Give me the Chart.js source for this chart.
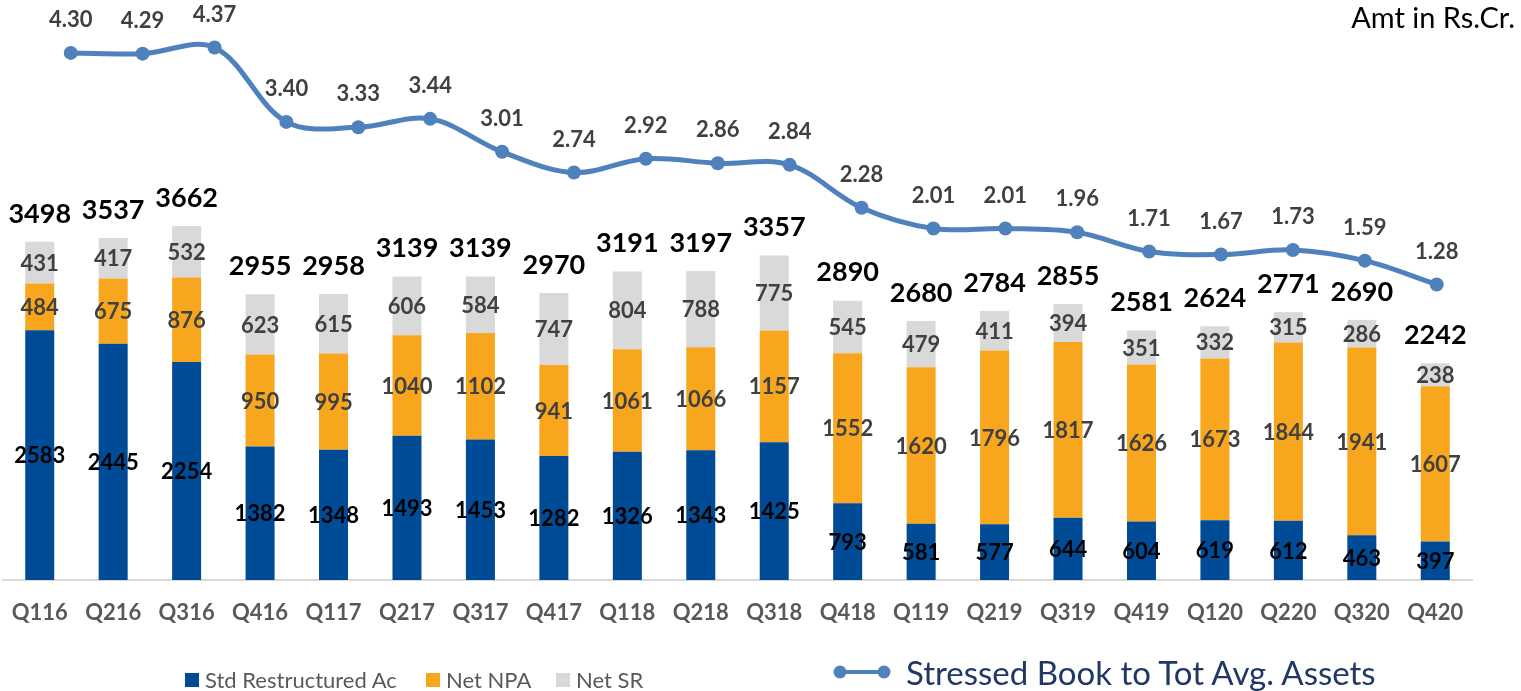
<!DOCTYPE html>
<html>
<head>
<meta charset="utf-8">
<script src="https://cdn.jsdelivr.net/npm/chart.js@4.4.1/dist/chart.umd.min.js"></script>
<style>
  html, body { margin: 0; padding: 0; background: #fff; }
  #wrap { position: relative; width: 1521px; height: 691px; overflow: hidden; font-family: Lato, "Open Sans", sans-serif; }
  #chart { position: absolute; left: 0; top: 0; }
  .note { position: absolute; right: 6px; top: 0px; font-size: 29px; line-height: 34px; color: #000; white-space: nowrap; }
  .leg { position: absolute; top: 668px; height: 24px; font-size: 22px; line-height: 24px; color: #595959; white-space: nowrap; display: flex; align-items: center; }
  .sw { display: inline-block; width: 14px; height: 14px; margin-right: 6px; }
  .lleg { position: absolute; left: 832px; top: 652px; height: 40px; display: flex; align-items: center; white-space: nowrap; font-size: 33px; line-height: 40px; color: #203864; }
  .lleg svg { margin-right: 14px; }
</style>
</head>
<body>
<div id="wrap">
  <canvas id="chart" width="1521" height="691"></canvas>
  <div class="note">Amt in Rs.Cr.</div>
  <div class="leg" style="left:185px"><span class="sw" style="background:#004B96"></span>Std Restructured Ac</div>
  <div class="leg" style="left:426px"><span class="sw" style="background:#F7A61D"></span>Net NPA</div>
  <div class="leg" style="left:556px"><span class="sw" style="background:#D9D9D9"></span>Net SR</div>
  <div class="lleg"><svg width="60" height="16"><line x1="8" y1="8" x2="52" y2="8" stroke="#4F81BD" stroke-width="4"/><circle cx="8" cy="8" r="6.5" fill="#4F81BD"/><circle cx="52" cy="8" r="6.5" fill="#4F81BD"/></svg>Stressed Book to Tot Avg. Assets</div>
</div>
<script>
const categories = ['Q116','Q216','Q316','Q416','Q117','Q217','Q317','Q417','Q118','Q218',
                    'Q318','Q418','Q119','Q219','Q319','Q419','Q120','Q220','Q320','Q420'];
const stdRestructured = [2583,2445,2254,1382,1348,1493,1453,1282,1326,1343,1425,793,581,577,644,604,619,612,463,397];
const netNPA          = [484,675,876,950,995,1040,1102,941,1061,1066,1157,1552,1620,1796,1817,1626,1673,1844,1941,1607];
const netSR           = [431,417,532,623,615,606,584,747,804,788,775,545,479,411,394,351,332,315,286,238];
const totals          = [3498,3537,3662,2955,2958,3139,3139,2970,3191,3197,3357,2890,2680,2784,2855,2581,2624,2771,2690,2242];
const stressedRatio   = [4.30,4.29,4.37,3.40,3.33,3.44,3.01,2.74,2.92,2.86,2.84,2.28,2.01,2.01,1.96,1.71,1.67,1.73,1.59,1.28];

const FONT = 'Lato, "Open Sans", sans-serif';

const valueLabels = {
  id: 'valueLabels',
  afterDatasetsDraw(chart) {
    const c = chart.ctx;
    c.save();
    c.textAlign = 'center';
    c.textBaseline = 'middle';
    [1, 2, 3].forEach(di => {
      const meta = chart.getDatasetMeta(di);
      const vals = chart.data.datasets[di].data;
      meta.data.forEach((el, i) => {
        c.font = 'bold 22px ' + FONT;
        c.fillStyle = di === 1 ? '#000000' : '#404040';
        c.fillText(String(vals[i]), el.x, (el.y + el.base) / 2 + 1);
      });
    });
    chart.getDatasetMeta(3).data.forEach((el, i) => {
      c.font = 'bold 27px ' + FONT;
      c.fillStyle = '#000000';
      c.fillText(String(totals[i]), el.x, el.y - 28);
    });
    chart.getDatasetMeta(0).data.forEach((el, i) => {
      c.font = 'bold 22px ' + FONT;
      c.fillStyle = '#404040';
      c.fillText(stressedRatio[i].toFixed(2), el.x, el.y - 33);
    });
    c.restore();
  }
};

new Chart(document.getElementById('chart'), {
  type: 'bar',
  data: {
    labels: categories,
    datasets: [
      {
        type: 'line',
        label: 'Stressed Book to Tot Avg. Assets',
        data: stressedRatio.map((v, i) => ({ x: i, y: v })),
        xAxisID: 'xl', yAxisID: 'yl',
        borderColor: '#4F81BD', backgroundColor: '#4F81BD',
        borderWidth: 5, pointRadius: 7, pointBorderWidth: 0,
        pointBackgroundColor: '#4F81BD',
        tension: 0.35, order: 0, clip: false
      },
      { label: 'Std Restructured Ac', data: stdRestructured, backgroundColor: '#004B96', order: 1, grouped: false },
      { label: 'Net NPA', data: netNPA, backgroundColor: '#F7A61D', order: 1, grouped: false },
      { label: 'Net SR', data: netSR, backgroundColor: '#D9D9D9', order: 1, grouped: false }
    ]
  },
  options: {
    responsive: false,
    animation: false,
    layout: { autoPadding: false, padding: { left: 3, right: 49, top: 0, bottom: 64.6 } },
    plugins: { legend: { display: false }, tooltip: { enabled: false } },
    datasets: { bar: { categoryPercentage: 1, barPercentage: 0.395 } },
    scales: {
      x: {
        stacked: true,
        grid: { display: false, drawTicks: true, tickLength: 20 },
        border: { color: '#D9D9D9', width: 2 },
        ticks: { font: { family: FONT, size: 22, weight: 'bold' }, color: '#595959', padding: 0 }
      },
      y: { stacked: true, display: false, min: 0, max: 6000 },
      xl: { type: 'linear', display: false, offset: false, min: -0.942, max: 19.491 },
      yl: { type: 'linear', display: false, min: -2.575, max: 4.99 }
    }
  },
  plugins: [valueLabels]
});
</script>
</body>
</html>
